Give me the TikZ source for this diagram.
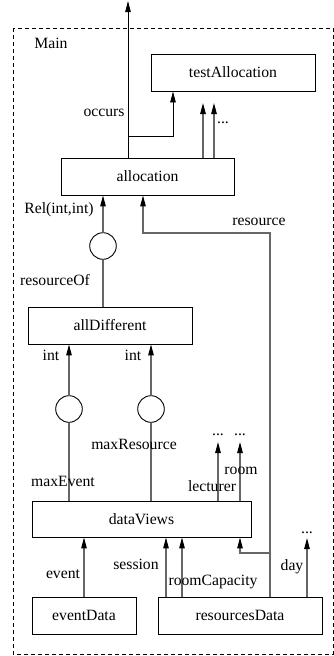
\documentclass[tikz,border=0pt]{standalone}
\usepackage{fontspec}
\setmainfont{Liberation Serif}
\usetikzlibrary{arrows.meta}
\usetikzlibrary{calc}

\begin{document}
\begin{tikzpicture}[x=1pt,y=-1pt,
  font=\fontsize{15.7}{18}\selectfont,
  box/.style={draw,line width=0.9pt,inner sep=0pt,minimum height=37pt},
  circ/.style={draw,line width=0.9pt,circle,inner sep=0pt,minimum size=26.6pt},
  conn/.style={draw=black!60,line width=1.1pt,-{Triangle[length=11pt,width=5.5pt,black]}},
  plain/.style={draw=black!60,line width=1.1pt}]
  \useasboundingbox (0,0) rectangle (334,656);
  \draw[dash pattern=on 4pt off 3pt,line width=0.8pt] (13,28) rectangle (333,654);
  \node (main) at (51,43) {Main};

  % boxes
  \node[box,minimum width=164pt] (testalloc) at (233,72.5) {testAllocation};
  \node[box,minimum width=173pt] (alloc) at (147.5,176.5) {allocation};
  \node[box,minimum width=164pt] (alldiff) at (110,325.5) {allDifferent};
  \node[box,minimum width=219pt,minimum height=36pt] (dataviews) at (141.5,519) {dataViews};
  \node[box,minimum width=104pt] (eventdata) at (84,615.5) {eventData};
  \node[box,minimum width=164pt] (resdata) at (240,615.5) {resourcesData};

  \node[circ] (rel) at (103,246) {};
  \node[circ] (maxev) at (69,409) {};
  \node[circ] (maxres) at (151,409) {};

  % free ends
  \coordinate (out) at (128,1);
  \coordinate (occ) at (128,136);
  \coordinate (occe) at (173,0);
  \coordinate (dots1) at (203,103);
  \coordinate (dots2) at (214,103);
  \coordinate (resc) at (143,233);
  \coordinate (resx) at (270,0);
  \coordinate (resb) at (270,553);
  \coordinate (lect) at (218,442);
  \coordinate (room) at (240,442);
  \coordinate (sess) at (166,0);
  \coordinate (roomcap) at (182,0);
  \coordinate (day) at (307,538);

  % allocation outputs
  \draw[line width=0.9pt,-{Triangle[length=11pt,width=5.5pt]}] (alloc.north -| out) -- (out);
  \draw[line width=0.9pt,-{Triangle[length=11pt,width=5.5pt]}] (occ) -| (testalloc.south -| occe);
  \draw[conn] (alloc.north -| dots1) -- (dots1);
  \draw[conn] (alloc.north -| dots2) -- (dots2);
  \node (occlbl) at (104,113) {occurs};
  \node (dotlbl1) at (223,123) {...};

  % into allocation
  \draw[conn] (rel.north) -- (alloc.south -| rel);
  \draw[conn] (resdata.north -| resx) |- (resc) -- (alloc.south -| resc);
  \node (rellbl) at (59,210) {Rel(int,int)};
  \node (reslbl) at (259,222) {resource};
  \draw[plain] (alldiff.north -| rel) -- (rel.south);
  \node (resoflbl) at (55,280) {resourceOf};

  % allDifferent inputs
  \draw[conn] (maxev.north) -- (alldiff.south -| maxev);
  \draw[conn] (maxres.north) -- (alldiff.south -| maxres);
  \node (intlbl1) at (51,355) {int};
  \node (intlbl2) at (133,355) {int};
  \draw[plain] (dataviews.north -| maxev) -- (maxev.south);
  \draw[plain] (dataviews.north -| maxres) -- (maxres.south);
  \node (maxreslbl) at (134,444) {maxResource};
  \node (maxevlbl) at (63,481) {maxEvent};

  % dataViews outputs
  \draw[conn] (dataviews.north -| lect) -- (lect);
  \draw[conn] (dataviews.north -| room) -- (room);
  \node (dotlbl2) at (218,435) {...};
  \node (dotlbl3) at (240,435) {...};
  \node (roomlbl) at (241,471) {room};
  \node (lectlbl) at (212,486) {lecturer};

  % data inputs
  \draw[conn] (eventdata.north) -- (dataviews.south -| eventdata);
  \draw[conn] (resdata.north -| sess) -- (dataviews.south -| sess);
  \draw[conn] (resdata.north -| roomcap) -- (dataviews.south -| roomcap);
  \draw[conn] (resb) -| (dataviews.south -| room);
  \draw[conn] (resdata.north -| day) -- (day);
  \node (evlbl) at (63,574) {event};
  \node (sesslbl) at (136,564) {session};
  \node (roomcaplbl) at (213,582) {roomCapacity};
  \node (daylbl) at (292,567) {day};
  \node (dotlbl4) at (307,533) {...};
\end{tikzpicture}
\end{document}
